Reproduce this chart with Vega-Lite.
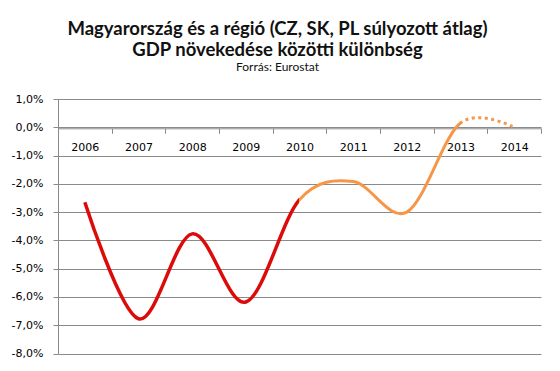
{
  "$schema": "https://vega.github.io/schema/vega-lite/v6.json",
  "width": 483,
  "height": 254.5,
  "autosize": {"type": "none"},
  "padding": {"left": 58, "top": 99, "right": 19, "bottom": 17.5},
  "background": "white",
  "title": {
    "text": ["Magyarország és a régió (CZ, SK, PL súlyozott átlag)", "GDP növekedése közötti különbség"],
    "subtitle": "Forrás: Eurostat",
    "font": "Lato",
    "fontSize": 18.5,
    "fontWeight": "bold",
    "lineHeight": 21,
    "color": "#111111",
    "subtitleFont": "Lato",
    "subtitleFontSize": 12,
    "subtitleColor": "#111111",
    "subtitlePadding": 3,
    "anchor": "middle",
    "dx": -22,
    "offset": 20
  },
  "data": {
    "values": [
      {"year": "2006", "value": -2.65},
      {"year": "2007", "value": -6.77},
      {"year": "2008", "value": -3.77},
      {"year": "2009", "value": -6.18},
      {"year": "2010", "value": -2.56},
      {"year": "2011", "value": -1.92},
      {"year": "2012", "value": -3.0},
      {"year": "2013", "value": 0.15},
      {"year": "2014", "value": 0.0}
    ]
  },
  "encoding": {
    "x": {
      "field": "year",
      "type": "ordinal",
      "scale": {"type": "band", "paddingInner": 0, "paddingOuter": 0},
      "axis": {
        "title": null,
        "orient": "bottom",
        "offset": -225.2,
        "labelAngle": 0,
        "labelFont": "DejaVu Sans",
        "labelFontSize": 11,
        "labelColor": "#000000",
        "labelPadding": 8,
        "tickBand": "extent",
        "tickExtra": true,
        "tickSize": 5,
        "tickColor": "#8a8a8a",
        "domainColor": "#8a8a8a",
        "grid": false
      }
    },
    "y": {
      "field": "value",
      "type": "quantitative",
      "scale": {"domain": [-8, 1], "nice": false, "zero": false},
      "axis": {
        "title": null,
        "values": [-8, -7, -6, -5, -4, -3, -2, -1, 0, 1],
        "labelExpr": "(datum.value < 0 ? '-' : '') + replace(format(abs(datum.value), '.1f'), '.', ',') + '%'",
        "labelFont": "DejaVu Sans",
        "labelFontSize": 11,
        "labelColor": "#000000",
        "labelPadding": 10,
        "tickSize": 5,
        "tickColor": "#8a8a8a",
        "domainColor": "#8a8a8a",
        "grid": true,
        "gridColor": "#8a8a8a",
        "gridOpacity": 1
      }
    }
  },
  "layer": [
    {
      "mark": {
        "type": "line",
        "interpolate": "cardinal",
        "tension": 0,
        "strokeWidth": 3.5,
        "stroke": {
          "gradient": "linear", "x1": 0, "y1": 0, "x2": 1, "y2": 0,
          "stops": [
            {"offset": 0, "color": "#dd0a0a"},
            {"offset": 0.5, "color": "#dd0a0a"},
            {"offset": 0.5, "color": "rgba(255,255,255,0)"},
            {"offset": 1, "color": "rgba(255,255,255,0)"}
          ]
        }
      }
    },
    {
      "mark": {
        "type": "line",
        "interpolate": "cardinal",
        "tension": 0,
        "strokeWidth": 3,
        "stroke": {
          "gradient": "linear", "x1": 0, "y1": 0, "x2": 1, "y2": 0,
          "stops": [
            {"offset": 0, "color": "rgba(255,255,255,0)"},
            {"offset": 0.5, "color": "rgba(255,255,255,0)"},
            {"offset": 0.5, "color": "#f79646"},
            {"offset": 0.875, "color": "#f79646"},
            {"offset": 0.875, "color": "rgba(255,255,255,0)"},
            {"offset": 1, "color": "rgba(255,255,255,0)"}
          ]
        }
      }
    },
    {
      "mark": {
        "type": "line",
        "interpolate": "cardinal",
        "tension": 0,
        "strokeWidth": 3,
        "strokeDash": [3, 3.5],
        "stroke": {
          "gradient": "linear", "x1": 0, "y1": 0, "x2": 1, "y2": 0,
          "stops": [
            {"offset": 0, "color": "rgba(255,255,255,0)"},
            {"offset": 0.875, "color": "rgba(255,255,255,0)"},
            {"offset": 0.875, "color": "#f79646"},
            {"offset": 1, "color": "#f79646"}
          ]
        }
      }
    }
  ],
  "config": {
    "view": {"stroke": null}
  }
}
